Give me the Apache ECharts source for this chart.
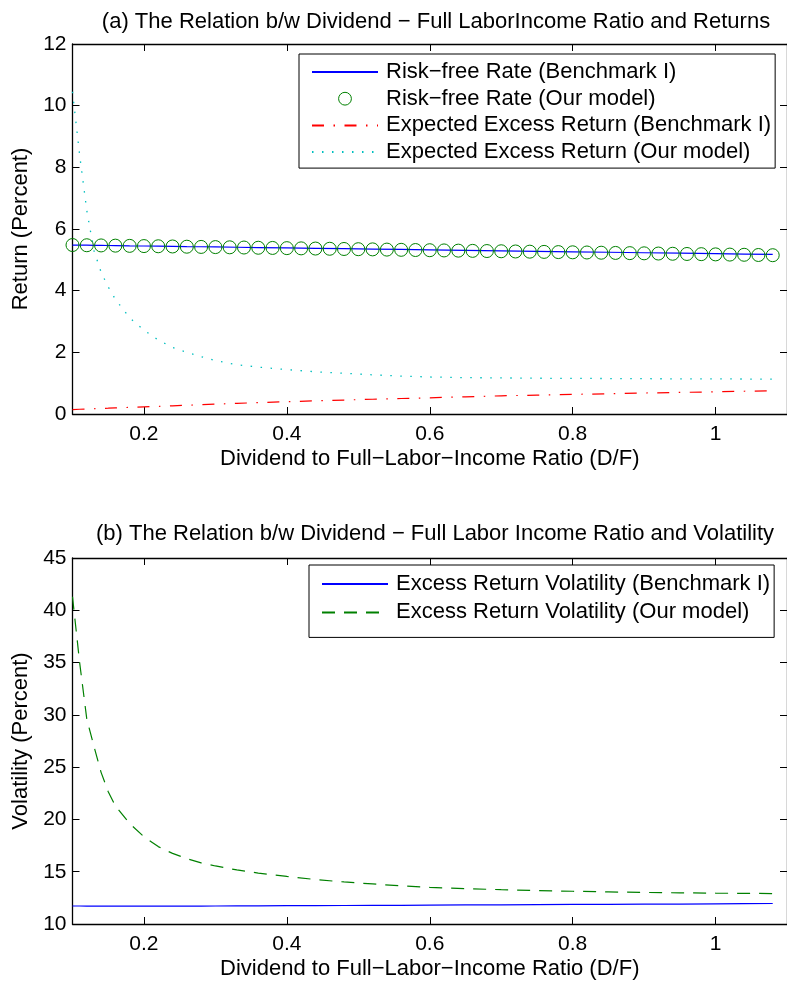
<!DOCTYPE html>
<html>
<head>
<meta charset="utf-8">
<script src="https://cdn.jsdelivr.net/npm/echarts@6/dist/echarts.min.js"></script>
<style>
html,body{margin:0;padding:0;background:#fff;}
#chart{width:787px;height:981px;}
</style>
</head>
<body>
<div id="chart"></div>
<script>
// ---------- data ----------
const xCurve = [0.10,0.11,0.12,0.13,0.14,0.15,0.16,0.18,0.20,0.22,0.24,0.26,0.28,0.30,0.33,0.36,0.40,0.44,0.48,0.52,0.56,0.60,0.65,0.70,0.75,0.80,0.85,0.90,0.95,1.00,1.04,1.08];

// panel (a)
const riskFreeBench = [5.48,5.477,5.474,5.471,5.468,5.465,5.462,5.455,5.449,5.443,5.437,5.43,5.424,5.418,5.408,5.399,5.386,5.374,5.362,5.349,5.336,5.324,5.308,5.293,5.277,5.261,5.246,5.23,5.215,5.199,5.187,5.175];
const excessBench = [0.145,0.154,0.162,0.171,0.18,0.188,0.197,0.214,0.23,0.248,0.266,0.284,0.302,0.32,0.345,0.37,0.40,0.427,0.453,0.478,0.502,0.525,0.558,0.59,0.613,0.635,0.658,0.68,0.70,0.72,0.738,0.755];
const excessOurs = [10.45,8.4,6.6,5.3,4.6,4.12,3.72,3.12,2.72,2.40,2.16,2.00,1.86,1.73,1.60,1.52,1.44,1.37,1.32,1.27,1.23,1.20,1.18,1.17,1.16,1.155,1.15,1.145,1.14,1.14,1.135,1.13];

const xCircle = [0.10,0.12,0.14,0.16,0.18,0.20,0.22,0.24,0.26,0.28,0.30,0.32,0.34,0.36,0.38,0.40,0.42,0.44,0.46,0.48,0.50,0.52,0.54,0.56,0.58,0.60,0.62,0.64,0.66,0.68,0.70,0.72,0.74,0.76,0.78,0.80,0.82,0.84,0.86,0.88,0.90,0.92,0.94,0.96,0.98,1.00,1.02,1.04,1.06,1.08];
const riskFreeOurs = [5.480,5.473,5.467,5.460,5.453,5.446,5.440,5.433,5.426,5.419,5.413,5.406,5.399,5.392,5.386,5.379,5.372,5.366,5.359,5.352,5.345,5.339,5.332,5.325,5.318,5.312,5.305,5.298,5.291,5.285,5.278,5.271,5.265,5.258,5.251,5.244,5.238,5.231,5.224,5.217,5.211,5.204,5.197,5.190,5.184,5.177,5.170,5.164,5.157,5.150];

// panel (b)
const volBench = [11.72,11.72,11.71,11.71,11.71,11.70,11.70,11.70,11.70,11.70,11.70,11.71,11.71,11.72,11.73,11.74,11.75,11.76,11.77,11.78,11.79,11.80,11.82,11.83,11.85,11.87,11.88,11.90,11.91,11.93,11.94,11.96];
const volOurs = [41.3,35.0,29.6,27.0,24.5,22.65,21.3,19.6,18.35,17.4,16.75,16.25,15.85,15.55,15.17,14.87,14.55,14.25,14.02,13.83,13.65,13.5,13.38,13.28,13.2,13.13,13.07,13.02,12.98,12.95,12.93,12.91];

// ticks
const xTicks = [0.2,0.4,0.6,0.8,1];
const yTicksA = [0,2,4,6,8,10,12];
const yTicksB = [10,15,20,25,30,35,40,45];

// texts
const titleA = '(a) The Relation b/w Dividend \u2212 Full LaborIncome Ratio and Returns';
const titleB = '(b) The Relation b/w Dividend \u2212 Full Labor Income Ratio and Volatility';
const xName = 'Dividend to Full\u2212Labor\u2212Income Ratio (D/F)';
const yNameA = 'Return (Percent)';
const yNameB = 'Volatility (Percent)';
const namesA = ['Risk\u2212free Rate (Benchmark I)','Risk\u2212free Rate (Our model)','Expected Excess Return (Benchmark I)','Expected Excess Return (Our model)'];
const namesB = ['Excess Return Volatility (Benchmark I)','Excess Return Volatility (Our model)'];

// ---------- chart ----------
const FONT = '"Liberation Sans", Arial, Helvetica, sans-serif';
const pairs = (xs, ys) => xs.map((x, i) => [x, ys[i]]);

function xAxisDef(gridIndex, position, main) {
  return {
    type: 'value', gridIndex: gridIndex, position: position,
    min: 0.1, max: 1.1,
    axisLine: {show: true, onZero: false, lineStyle: {color: '#000', width: 1.3}},
    axisTick: {show: true, inside: true, length: 7, customValues: xTicks, lineStyle: {color: '#000', width: 1}},
    axisLabel: {show: main, customValues: xTicks, margin: 10, fontSize: 21, color: '#000', fontFamily: FONT},
    splitLine: {show: false},
    name: main ? xName : '', nameLocation: 'middle', nameGap: 34,
    nameTextStyle: {fontSize: 22, color: '#000', fontFamily: FONT}
  };
}
function yAxisDef(gridIndex, position, main, ticks, name) {
  return {
    type: 'value', gridIndex: gridIndex, position: position,
    min: ticks[0], max: ticks[ticks.length - 1], interval: ticks[1] - ticks[0],
    axisLine: {show: true, onZero: false, lineStyle: {color: '#000', width: 1.3}},
    axisTick: {show: true, inside: true, length: 7, lineStyle: {color: '#000', width: 1}},
    axisLabel: {show: main, margin: 6, fontSize: 21, color: '#000', fontFamily: FONT},
    splitLine: {show: false},
    name: main ? name : '', nameLocation: 'middle', nameGap: 39,
    nameTextStyle: {fontSize: 22, color: '#000', fontFamily: FONT}
  };
}

const legendBase = {
  orient: 'vertical', itemWidth: 66, itemHeight: 16,
  borderColor: '#000', borderWidth: 1, backgroundColor: '#fff',
  selectedMode: false,
  textStyle: {fontSize: 22, lineHeight: 22, color: '#000', fontFamily: FONT, padding: [0, 0, 0, 3]}
};
const hideSym = {opacity: 0};

const option = {
  animation: false,
  backgroundColor: '#fff',
  title: [
    {text: titleA, left: 436, top: 11, textAlign: 'center', padding: 0,
     textStyle: {fontSize: 22, fontWeight: 'normal', color: '#000', fontFamily: FONT}},
    {text: titleB, left: 435, top: 523, textAlign: 'center', padding: 0,
     textStyle: {fontSize: 22, fontWeight: 'normal', color: '#000', fontFamily: FONT}}
  ],
  grid: [
    {left: 72.5, top: 44, width: 717, height: 370},
    {left: 72.5, top: 558, width: 717, height: 369}
  ],
  xAxis: [
    xAxisDef(0, 'bottom', true), xAxisDef(0, 'top', false),
    xAxisDef(1, 'bottom', true), xAxisDef(1, 'top', false)
  ],
  yAxis: [
    yAxisDef(0, 'left', true, yTicksA, yNameA), yAxisDef(0, 'right', false, yTicksA, ''),
    yAxisDef(1, 'left', true, yTicksB, yNameB), yAxisDef(1, 'right', false, yTicksB, '')
  ],
  legend: [
    Object.assign({}, legendBase, {
      left: 299, top: 54, padding: [7, 4, 5, 12], itemGap: 4.7,
      data: [
        {name: namesA[0], itemStyle: hideSym},
        {name: namesA[1], itemStyle: {color: 'rgba(0,0,0,0)', borderColor: '#008000', borderWidth: 1}},
        {name: namesA[2], itemStyle: hideSym},
        {name: namesA[3], itemStyle: hideSym}
      ]
    }),
    Object.assign({}, legendBase, {
      left: 309, top: 565, padding: [8, 4, 14, 12], itemGap: 6.4,
      data: [
        {name: namesB[0], itemStyle: hideSym},
        {name: namesB[1], itemStyle: hideSym}
      ]
    })
  ],
  series: [
    {name: namesA[0], type: 'line', xAxisIndex: 0, yAxisIndex: 0, data: pairs(xCurve, riskFreeBench),
     symbol: 'none', showSymbol: false, lineStyle: {color: '#0000ff', width: 1.2, type: 'solid'},
     itemStyle: {color: '#0000ff'}, z: 2},
    {name: namesA[1], type: 'line', xAxisIndex: 0, yAxisIndex: 0, data: pairs(xCircle, riskFreeOurs),
     symbol: 'circle', symbolSize: 13, showSymbol: true,
     lineStyle: {width: 0, opacity: 0, color: '#008000'},
     itemStyle: {color: 'rgba(0,0,0,0)', borderColor: '#008000', borderWidth: 1}, z: 3},
    {name: namesA[2], type: 'line', xAxisIndex: 0, yAxisIndex: 0, data: pairs(xCurve, excessBench),
     symbol: 'none', showSymbol: false, lineStyle: {color: '#ff0000', width: 1.2, type: [12, 9.5, 1.5, 9.5]},
     itemStyle: {color: '#ff0000'}, z: 2},
    {name: namesA[3], type: 'line', xAxisIndex: 0, yAxisIndex: 0, data: pairs(xCurve, excessOurs),
     symbol: 'none', showSymbol: false, lineStyle: {color: '#00bfbf', width: 1.3, type: [1.5, 8.5]},
     itemStyle: {color: '#00bfbf'}, z: 2},
    {name: namesB[0], type: 'line', xAxisIndex: 2, yAxisIndex: 2, data: pairs(xCurve, volBench),
     symbol: 'none', showSymbol: false, lineStyle: {color: '#0000ff', width: 1.2, type: 'solid'},
     itemStyle: {color: '#0000ff'}, z: 2},
    {name: namesB[1], type: 'line', xAxisIndex: 2, yAxisIndex: 2, data: pairs(xCurve, volOurs),
     symbol: 'none', showSymbol: false, lineStyle: {color: '#008000', width: 1.2, type: [13, 9]},
     itemStyle: {color: '#008000'}, z: 2}
  ]
};

const chart = echarts.init(document.getElementById('chart'), null, {renderer: 'canvas'});
chart.setOption(option);
</script>
</body>
</html>
